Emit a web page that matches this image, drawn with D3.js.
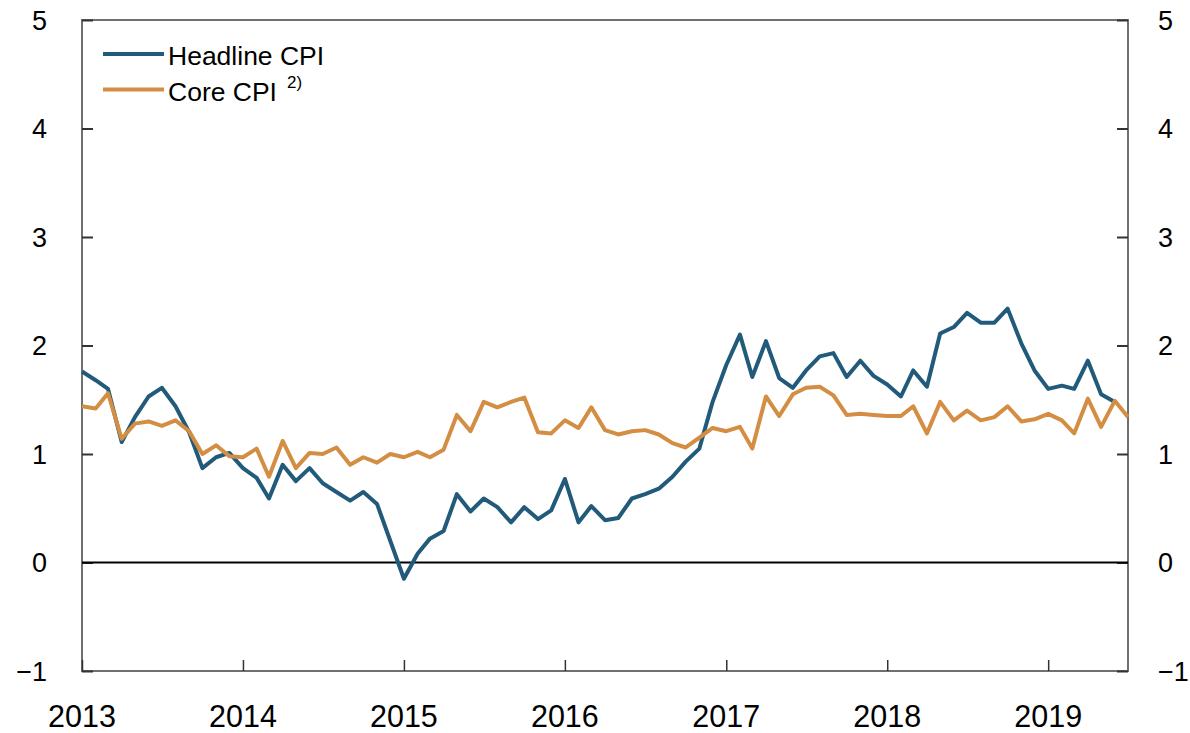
<!DOCTYPE html>
<html lang="en">
<head>
    <meta charset="UTF-8">
    <title>Headline and core CPI</title>
    <style>
        body {
            margin: 0;
            padding: 0;
            background-color: white;
        }

        svg text {
            font-family: "Liberation Sans", Arial, Helvetica, sans-serif;
            fill: #000;
        }
    </style>
</head>
<body>
    <div id="chart"></div>
    <script src="https://cdn.jsdelivr.net/npm/d3@7"></script>
    <script>
        // monthly values, first month Jan 2013
        const startMonth = new Date(2013, 0, 1)
        const headline = [
            1.76, 1.68, 1.60, 1.11, 1.34, 1.53, 1.61, 1.44, 1.20, 0.87, 0.97, 1.01,
            0.87, 0.78, 0.59, 0.90, 0.75, 0.87, 0.73, 0.65, 0.57, 0.65, 0.54, 0.20,
            -0.15, 0.08, 0.22, 0.29, 0.63, 0.47, 0.59, 0.51, 0.37, 0.51, 0.40, 0.48,
            0.77, 0.37, 0.52, 0.39, 0.41, 0.59, 0.63, 0.68, 0.79, 0.93, 1.05, 1.48,
            1.82, 2.10, 1.71, 2.04, 1.70, 1.61, 1.77, 1.90, 1.93, 1.71, 1.86, 1.72,
            1.64, 1.53, 1.77, 1.62, 2.11, 2.17, 2.30, 2.21, 2.21, 2.34, 2.02, 1.77,
            1.60, 1.63, 1.60, 1.86, 1.55, 1.48
        ]
        const core = [
            1.44, 1.42, 1.56, 1.14, 1.28, 1.30, 1.26, 1.31, 1.21, 1.00, 1.08, 0.98,
            0.97, 1.05, 0.79, 1.12, 0.87, 1.01, 1.00, 1.06, 0.90, 0.97, 0.92, 1.00,
            0.97, 1.02, 0.97, 1.04, 1.36, 1.21, 1.48, 1.43, 1.48, 1.52, 1.20, 1.19,
            1.31, 1.24, 1.43, 1.22, 1.18, 1.21, 1.22, 1.18, 1.10, 1.06, 1.15, 1.24,
            1.21, 1.25, 1.05, 1.53, 1.35, 1.55, 1.61, 1.62, 1.54, 1.36, 1.37, 1.36,
            1.35, 1.35, 1.44, 1.19, 1.48, 1.31, 1.40, 1.31, 1.34, 1.44, 1.30, 1.32,
            1.37, 1.31, 1.19, 1.51, 1.25, 1.49, 1.34
        ]
        const yearTicks = [2013, 2014, 2015, 2016, 2017, 2018, 2019]
        const yTicks = [-1, 0, 1, 2, 3, 4, 5]
        const seriesNames = ['Headline CPI', 'Core CPI']
        const colors = ['#215a7b', '#d38e43']

        const w = 1190
        const h = 733
        const pad = { left: 82, right: 1128, top: 20, bottom: 671 }

        const monthDate = i => new Date(startMonth.getFullYear(), startMonth.getMonth() + i, 1)

        const xScale = d3.scaleTime()
            .domain([new Date(2013, 0, 1), new Date(2019, 6, 1)])
            .range([pad.left, pad.right])

        const yScale = d3.scaleLinear()
            .domain([-1, 5])
            .range([pad.bottom, pad.top])

        const svg = d3.select('#chart')
            .append('svg')
            .attr('width', w)
            .attr('height', h)

        // frame
        svg.append('rect')
            .attr('x', pad.left)
            .attr('y', pad.top)
            .attr('width', pad.right - pad.left)
            .attr('height', pad.bottom - pad.top)
            .attr('fill', 'none')
            .attr('stroke', '#707070')
            .attr('stroke-width', 2)

        const fmt = d3.format('d')

        // left axis, ticks inward
        const yLeft = svg.append('g')
            .attr('transform', 'translate(' + pad.left + ',0)')
            .call(d3.axisRight(yScale).tickValues(yTicks).tickSize(11).tickFormat(''))
        yLeft.select('.domain').remove()
        yLeft.selectAll('line').attr('stroke', '#333').attr('stroke-width', 2)

        const yRight = svg.append('g')
            .attr('transform', 'translate(' + pad.right + ',0)')
            .call(d3.axisLeft(yScale).tickValues(yTicks).tickSize(11).tickFormat(''))
        yRight.select('.domain').remove()
        yRight.selectAll('line').attr('stroke', '#333').attr('stroke-width', 2)

        // y labels on both sides
        svg.append('g').selectAll('text')
            .data(yTicks)
            .enter()
            .append('text')
            .attr('x', 47)
            .attr('y', d => yScale(d))
            .attr('dy', '0.36em')
            .attr('text-anchor', 'end')
            .attr('font-size', 27)
            .text(d => fmt(d).replace('-', '\u2212'))

        svg.append('g').selectAll('text')
            .data(yTicks)
            .enter()
            .append('text')
            .attr('x', 1158)
            .attr('y', d => yScale(d))
            .attr('dy', '0.36em')
            .attr('text-anchor', 'start')
            .attr('font-size', 27)
            .text(d => fmt(d).replace('-', '\u2212'))

        // x axis
        const xAxis = svg.append('g')
            .attr('transform', 'translate(0,' + pad.bottom + ')')
            .call(d3.axisTop(xScale).tickValues(yearTicks.map(y => new Date(y, 0, 1))).tickSize(11).tickFormat(''))
        xAxis.select('.domain').remove()
        xAxis.selectAll('line').attr('stroke', '#333').attr('stroke-width', 1.5)

        svg.append('g').selectAll('text')
            .data(yearTicks)
            .enter()
            .append('text')
            .attr('x', d => xScale(new Date(d, 0, 1)))
            .attr('y', 727)
            .attr('text-anchor', 'middle')
            .attr('font-size', 30.5)
            .text(d => d)

        // zero line
        svg.append('line')
            .attr('x1', pad.left)
            .attr('x2', pad.right)
            .attr('y1', yScale(0))
            .attr('y2', yScale(0))
            .attr('stroke', '#000')
            .attr('stroke-width', 2)

        const line = d3.line()
            .x((d, i) => xScale(monthDate(i)))
            .y(d => yScale(d))

        ;[headline, core].forEach((series, k) => {
            svg.append('path')
                .datum(series)
                .attr('d', line)
                .attr('fill', 'none')
                .attr('stroke', colors[k])
                .attr('stroke-width', 4)
                .attr('stroke-linejoin', 'round')
        })

        // legend
        const legend = svg.append('g')
        seriesNames.forEach((name, k) => {
            const ly = 54 + k * 35.5
            legend.append('line')
                .attr('x1', 103)
                .attr('x2', 164)
                .attr('y1', ly)
                .attr('y2', ly)
                .attr('stroke', colors[k])
                .attr('stroke-width', 4)
            const t = legend.append('text')
                .attr('x', 168)
                .attr('y', ly + 11)
                .attr('font-size', 26.5)
                .text(name)
            if (k === 1) {
                t.append('tspan')
                    .attr('dx', 10)
                    .attr('dy', -13)
                    .attr('font-size', 17)
                    .text('2)')
            }
        })
    </script>
</body>
</html>
